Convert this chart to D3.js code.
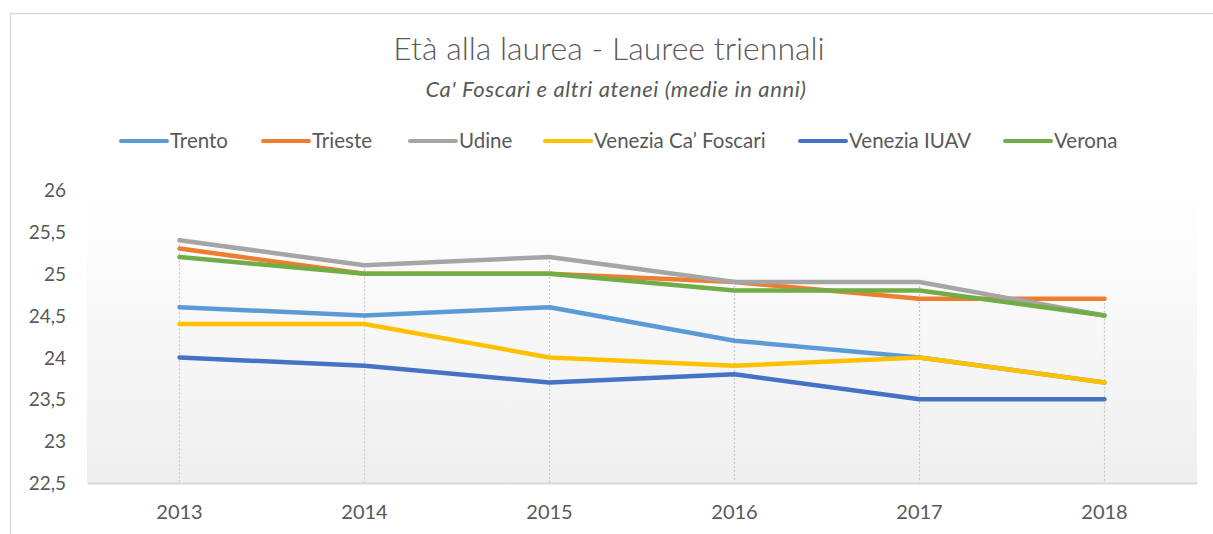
<!DOCTYPE html>
<html>
<head>
<meta charset="utf-8">
<script src="https://cdn.jsdelivr.net/npm/d3@7"></script>
<style>
  body { margin: 0; background: #fff; }
  text { font-family: Lato, "Open Sans", sans-serif; fill: #595959; }
</style>
</head>
<body>
<script>
// data
const years = ["2013", "2014", "2015", "2016", "2017", "2018"]
const seriesNames = ["Trento", "Trieste", "Udine", "Venezia Ca\u2019 Foscari", "Venezia IUAV", "Verona"]
const trento = [24.6, 24.5, 24.6, 24.2, 24.0, 23.7]
const trieste = [25.3, 25.0, 25.0, 24.9, 24.7, 24.7]
const udine = [25.4, 25.1, 25.2, 24.9, 24.9, 24.5]
const caFoscari = [24.4, 24.4, 24.0, 23.9, 24.0, 23.7]
const iuav = [24.0, 23.9, 23.7, 23.8, 23.5, 23.5]
const verona = [25.2, 25.0, 25.0, 24.8, 24.8, 24.5]
const yTicks = [22.5, 23, 23.5, 24, 24.5, 25, 25.5, 26]
const colors = ["#5B9BD5", "#ED7D31", "#A5A5A5", "#FFC000", "#4472C4", "#70AD47"]

const allSeries = [trento, trieste, udine, caFoscari, iuav, verona]

const width = 1213, height = 534
const svg = d3.select("body").append("svg")
  .attr("width", width)
  .attr("height", height)

// chart frame (right and bottom edges fall outside the picture)
svg.append("rect")
  .attr("x", 10.5).attr("y", 13.5)
  .attr("width", 1240).attr("height", 600)
  .attr("fill", "#fff")
  .attr("stroke", "#d9d9d9")
  .attr("stroke-width", 1.5)

const x = d3.scaleBand().domain(years).range([87, 1197])
const y = d3.scaleLinear().domain([22.5, 26]).range([483, 190])

// plot area gradient
const grad = svg.append("defs").append("linearGradient")
  .attr("id", "bg").attr("x1", 0).attr("y1", 0).attr("x2", 0).attr("y2", 1)
grad.append("stop").attr("offset", "0%").attr("stop-color", "#ffffff")
grad.append("stop").attr("offset", "100%").attr("stop-color", "#efefef")

svg.append("rect")
  .attr("x", 87).attr("y", y(26))
  .attr("width", 1110).attr("height", y(22.5) - y(26))
  .attr("fill", "url(#bg)")

// titles
svg.append("text")
  .attr("x", 609).attr("y", 60)
  .attr("text-anchor", "middle")
  .style("font-size", "32px")
  .style("font-weight", 300)
  .text("Età alla laurea - Lauree triennali")

svg.append("text")
  .attr("x", 616).attr("y", 97)
  .attr("text-anchor", "middle")
  .style("font-size", "22px")
  .style("font-style", "italic")
  .style("letter-spacing", "0.6px")
  .text("Ca' Foscari e altri atenei (medie in anni)")

// drop lines from each category's highest point
years.forEach((yr, i) => {
  const top = d3.max(allSeries, s => s[i])
  svg.append("line")
    .attr("x1", x(yr) + x.bandwidth() / 2).attr("x2", x(yr) + x.bandwidth() / 2)
    .attr("y1", y(top)).attr("y2", y(22.5))
    .attr("stroke", "#c8c8c8")
    .attr("stroke-width", 1.2)
    .attr("stroke-dasharray", "2,2")
})

// axes
const yAxis = svg.append("g")
  .attr("transform", "translate(66,0)")
  .call(d3.axisLeft(y).tickValues(yTicks).tickSize(0).tickPadding(0)
    .tickFormat(d => String(d).replace(".", ",")))
yAxis.select(".domain").remove()
yAxis.selectAll("text").style("font-size", "19px").attr("dy", "0.35em")
  .style("fill", "#595959").style("font-family", "Lato, sans-serif")

const xAxis = svg.append("g")
  .attr("transform", `translate(0,${y(22.5)})`)
  .call(d3.axisBottom(x).tickSize(0).tickPadding(22))
xAxis.select(".domain").attr("stroke", "#d9d9d9").attr("stroke-width", 2)
xAxis.selectAll("text").style("font-size", "20px")
  .style("fill", "#595959").style("font-family", "Lato, sans-serif")

// lines
const lineFunction = d3.line()
  .x((d, i) => x(years[i]) + x.bandwidth() / 2)
  .y(d => y(d))
  .curve(d3.curveLinear)

allSeries.forEach((s, k) => {
  svg.append("path")
    .attr("d", lineFunction(s))
    .attr("stroke", colors[k])
    .attr("stroke-width", 4.5)
    .attr("stroke-linecap", "round")
    .attr("stroke-linejoin", "round")
    .attr("fill", "none")
})

// legend
const legendStarts = [121, 263, 410, 545, 800, 1005]
const legend = svg.append("g")
seriesNames.forEach((name, k) => {
  const g = legend.append("g").attr("transform", `translate(${legendStarts[k]},141)`)
  g.append("line")
    .attr("x1", 0).attr("x2", 46)
    .attr("stroke", colors[k]).attr("stroke-width", 4)
    .attr("stroke-linecap", "round")
  g.append("text")
    .attr("x", 49).attr("dy", "0.35em")
    .style("font-size", "20.5px")
    .text(name)
})
</script>
</body>
</html>
